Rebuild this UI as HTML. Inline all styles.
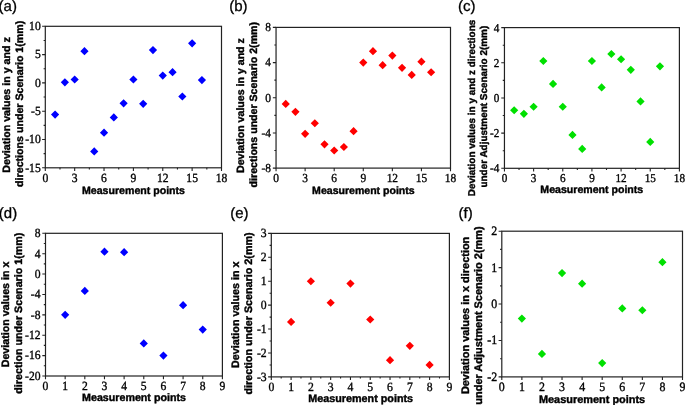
<!DOCTYPE html>
<html lang="en">
<head>
<meta charset="utf-8">
<title>Deviation values at measurement points</title>
<style>
html,body{margin:0;padding:0;background:#fff;}
body{width:685px;height:405px;overflow:hidden;font-family:"Liberation Sans",sans-serif;}
svg{display:block;will-change:transform;}
text{filter:grayscale(1);text-rendering:geometricPrecision;}
.tg{font-family:"Liberation Sans",sans-serif;font-size:15px;fill:#000;stroke:#000;stroke-width:0.3px;}
.tl{font-family:"Liberation Serif",serif;fill:#000;stroke:#000;stroke-width:0.35px;}
.lb{font-family:"Liberation Sans",sans-serif;font-weight:bold;fill:#000;stroke:#000;stroke-width:0.4px;}
.fr{fill:none;stroke:#222;stroke-width:1.2;}
.tk{fill:none;stroke:#222;stroke-width:1.1;}
</style>
</head>
<body>
<svg width="685" height="405" viewBox="0 0 685 405">
<rect width="685" height="405" fill="#fff"/>
<g>
<text class="tg" x="-1.4" y="10.65">(a)</text>
<rect class="fr" x="45.3" y="26.3" width="176.2" height="141.5"/>
<path class="tk" d="M45.3 167.8v3.2M59.98 167.8v1.7M74.67 167.8v3.2M89.35 167.8v1.7M104.03 167.8v3.2M118.72 167.8v1.7M133.4 167.8v3.2M148.08 167.8v1.7M162.77 167.8v3.2M177.45 167.8v1.7M192.13 167.8v3.2M206.82 167.8v1.7M221.5 167.8v3.2M45.3 167.8h-3.2M45.3 153.65h-1.7M45.3 139.5h-3.2M45.3 125.35h-1.7M45.3 111.2h-3.2M45.3 97.05h-1.7M45.3 82.9h-3.2M45.3 68.75h-1.7M45.3 54.6h-3.2M45.3 40.45h-1.7M45.3 26.3h-3.2"/>
<text class="tl" text-anchor="middle" font-size="12.5" transform="translate(45.3 181.9) scale(0.93 1)">0</text>
<text class="tl" text-anchor="middle" font-size="12.5" transform="translate(74.67 181.9) scale(0.93 1)">3</text>
<text class="tl" text-anchor="middle" font-size="12.5" transform="translate(104.03 181.9) scale(0.93 1)">6</text>
<text class="tl" text-anchor="middle" font-size="12.5" transform="translate(133.4 181.9) scale(0.93 1)">9</text>
<text class="tl" text-anchor="middle" font-size="12.5" transform="translate(162.77 181.9) scale(0.93 1)">12</text>
<text class="tl" text-anchor="middle" font-size="12.5" transform="translate(192.13 181.9) scale(0.93 1)">15</text>
<text class="tl" text-anchor="middle" font-size="12.5" transform="translate(221.5 181.9) scale(0.93 1)">18</text>
<text class="tl" text-anchor="end" font-size="12.5" transform="translate(40.7 171.65) scale(0.93 1)">-15</text>
<text class="tl" text-anchor="end" font-size="12.5" transform="translate(40.7 143.35) scale(0.93 1)">-10</text>
<text class="tl" text-anchor="end" font-size="12.5" transform="translate(40.7 115.05) scale(0.93 1)">-5</text>
<text class="tl" text-anchor="end" font-size="12.5" transform="translate(40.7 86.75) scale(0.93 1)">0</text>
<text class="tl" text-anchor="end" font-size="12.5" transform="translate(40.7 58.45) scale(0.93 1)">5</text>
<text class="tl" text-anchor="end" font-size="12.5" transform="translate(40.7 30.15) scale(0.93 1)">10</text>
<text class="lb" text-anchor="middle" font-size="10.6" x="133.5" y="193.5">Measurement points</text>
<text class="lb" text-anchor="middle" font-size="10.65" transform="translate(9.9 105) rotate(-90)">Deviation values in y and z</text>
<text class="lb" text-anchor="middle" font-size="10.65" transform="translate(23.35 103.8) rotate(-90)">directions under Scenario 1(mm)</text>
<path fill="#0000ff" d="M55.09 110.5l4.1 4.1l-4.1 4.1l-4.1 -4.1zM64.88 78.23l4.1 4.1l-4.1 4.1l-4.1 -4.1zM74.67 75.4l4.1 4.1l-4.1 4.1l-4.1 -4.1zM84.46 47.1l4.1 4.1l-4.1 4.1l-4.1 -4.1zM94.24 147.29l4.1 4.1l-4.1 4.1l-4.1 -4.1zM104.03 128.61l4.1 4.1l-4.1 4.1l-4.1 -4.1zM113.82 113.33l4.1 4.1l-4.1 4.1l-4.1 -4.1zM123.61 99.18l4.1 4.1l-4.1 4.1l-4.1 -4.1zM133.4 75.4l4.1 4.1l-4.1 4.1l-4.1 -4.1zM143.19 99.74l4.1 4.1l-4.1 4.1l-4.1 -4.1zM152.98 45.97l4.1 4.1l-4.1 4.1l-4.1 -4.1zM162.77 71.44l4.1 4.1l-4.1 4.1l-4.1 -4.1zM172.56 68.05l4.1 4.1l-4.1 4.1l-4.1 -4.1zM182.34 92.38l4.1 4.1l-4.1 4.1l-4.1 -4.1zM192.13 39.18l4.1 4.1l-4.1 4.1l-4.1 -4.1zM201.92 75.97l4.1 4.1l-4.1 4.1l-4.1 -4.1z"/>
</g>
<g>
<text class="tg" x="229.2" y="10.75">(b)</text>
<rect class="fr" x="276.05" y="27.4" width="174.45" height="140.7"/>
<path class="tk" d="M276.05 168.1v3.2M305.12 168.1v3.2M334.2 168.1v3.2M363.27 168.1v3.2M392.35 168.1v3.2M421.43 168.1v3.2M450.5 168.1v3.2M276.05 168.1h-3.2M276.05 150.51h-1.7M276.05 132.93h-3.2M276.05 115.34h-1.7M276.05 97.75h-3.2M276.05 80.16h-1.7M276.05 62.58h-3.2M276.05 44.99h-1.7M276.05 27.4h-3.2"/>
<text class="tl" text-anchor="middle" font-size="12.3" transform="translate(276.05 182.2) scale(0.93 1)">0</text>
<text class="tl" text-anchor="middle" font-size="12.3" transform="translate(305.12 182.2) scale(0.93 1)">3</text>
<text class="tl" text-anchor="middle" font-size="12.3" transform="translate(334.2 182.2) scale(0.93 1)">6</text>
<text class="tl" text-anchor="middle" font-size="12.3" transform="translate(363.27 182.2) scale(0.93 1)">9</text>
<text class="tl" text-anchor="middle" font-size="12.3" transform="translate(392.35 182.2) scale(0.93 1)">12</text>
<text class="tl" text-anchor="middle" font-size="12.3" transform="translate(421.43 182.2) scale(0.93 1)">15</text>
<text class="tl" text-anchor="middle" font-size="12.3" transform="translate(450.5 182.2) scale(0.93 1)">18</text>
<text class="tl" text-anchor="end" font-size="12.3" transform="translate(270.95 171.89) scale(0.93 1)">-8</text>
<text class="tl" text-anchor="end" font-size="12.3" transform="translate(270.95 136.71) scale(0.93 1)">-4</text>
<text class="tl" text-anchor="end" font-size="12.3" transform="translate(270.95 101.54) scale(0.93 1)">0</text>
<text class="tl" text-anchor="end" font-size="12.3" transform="translate(270.95 66.36) scale(0.93 1)">4</text>
<text class="tl" text-anchor="end" font-size="12.3" transform="translate(270.95 31.19) scale(0.93 1)">8</text>
<text class="lb" text-anchor="middle" font-size="10.55" x="363.4" y="193.7">Measurement points</text>
<text class="lb" text-anchor="middle" font-size="10.6" transform="translate(244 105.6) rotate(-90)">Deviation values in y and z</text>
<text class="lb" text-anchor="middle" font-size="10.6" transform="translate(256.7 104.7) rotate(-90)">directions under Scenario 2(mm)</text>
<path fill="#ff0000" d="M285.74 99.81l4.1 4.1l-4.1 4.1l-4.1 -4.1zM295.43 107.72l4.1 4.1l-4.1 4.1l-4.1 -4.1zM305.12 129.7l4.1 4.1l-4.1 4.1l-4.1 -4.1zM314.82 119.15l4.1 4.1l-4.1 4.1l-4.1 -4.1zM324.51 140.26l4.1 4.1l-4.1 4.1l-4.1 -4.1zM334.2 146.41l4.1 4.1l-4.1 4.1l-4.1 -4.1zM343.89 142.9l4.1 4.1l-4.1 4.1l-4.1 -4.1zM353.58 127.07l4.1 4.1l-4.1 4.1l-4.1 -4.1zM363.27 58.48l4.1 4.1l-4.1 4.1l-4.1 -4.1zM372.97 47.04l4.1 4.1l-4.1 4.1l-4.1 -4.1zM382.66 61.11l4.1 4.1l-4.1 4.1l-4.1 -4.1zM392.35 51.44l4.1 4.1l-4.1 4.1l-4.1 -4.1zM402.04 63.75l4.1 4.1l-4.1 4.1l-4.1 -4.1zM411.73 70.79l4.1 4.1l-4.1 4.1l-4.1 -4.1zM421.43 57.6l4.1 4.1l-4.1 4.1l-4.1 -4.1zM431.12 68.15l4.1 4.1l-4.1 4.1l-4.1 -4.1z"/>
</g>
<g>
<text class="tg" x="457.9" y="10.65">(c)</text>
<rect class="fr" x="504.45" y="27.6" width="174.95" height="140.7"/>
<path class="tk" d="M504.45 168.3v3.2M519.03 168.3v1.7M533.61 168.3v3.2M548.19 168.3v1.7M562.77 168.3v3.2M577.35 168.3v1.7M591.92 168.3v3.2M606.5 168.3v1.7M621.08 168.3v3.2M635.66 168.3v1.7M650.24 168.3v3.2M664.82 168.3v1.7M679.4 168.3v3.2M504.45 168.3h-3.2M504.45 150.71h-1.7M504.45 133.12h-3.2M504.45 115.54h-1.7M504.45 97.95h-3.2M504.45 80.36h-1.7M504.45 62.78h-3.2M504.45 45.19h-1.7M504.45 27.6h-3.2"/>
<text class="tl" text-anchor="middle" font-size="12" transform="translate(504.45 182.2) scale(0.93 1)">0</text>
<text class="tl" text-anchor="middle" font-size="12" transform="translate(533.61 182.2) scale(0.93 1)">3</text>
<text class="tl" text-anchor="middle" font-size="12" transform="translate(562.77 182.2) scale(0.93 1)">6</text>
<text class="tl" text-anchor="middle" font-size="12" transform="translate(591.92 182.2) scale(0.93 1)">9</text>
<text class="tl" text-anchor="middle" font-size="12" transform="translate(621.08 182.2) scale(0.93 1)">12</text>
<text class="tl" text-anchor="middle" font-size="12" transform="translate(650.24 182.2) scale(0.93 1)">15</text>
<text class="tl" text-anchor="middle" font-size="12" transform="translate(679.4 182.2) scale(0.93 1)">18</text>
<text class="tl" text-anchor="end" font-size="12" transform="translate(499.35 172.2) scale(0.93 1)">-4</text>
<text class="tl" text-anchor="end" font-size="12" transform="translate(499.35 137.03) scale(0.93 1)">-2</text>
<text class="tl" text-anchor="end" font-size="12" transform="translate(499.35 101.85) scale(0.93 1)">0</text>
<text class="tl" text-anchor="end" font-size="12" transform="translate(499.35 66.68) scale(0.93 1)">2</text>
<text class="tl" text-anchor="end" font-size="12" transform="translate(499.35 31.5) scale(0.93 1)">4</text>
<text class="lb" text-anchor="middle" font-size="10.58" x="591.8" y="192.8">Measurement points</text>
<text class="lb" text-anchor="middle" font-size="9.93" transform="translate(474.9 108) rotate(-90)">Deviation values in y and z directions</text>
<text class="lb" text-anchor="middle" font-size="9.93" transform="translate(486.9 106.65) rotate(-90)">under Adjustment Scenario 2(mm)</text>
<path fill="#00e000" d="M514.17 106.16l4.1 4.1l-4.1 4.1l-4.1 -4.1zM523.89 109.68l4.1 4.1l-4.1 4.1l-4.1 -4.1zM533.61 102.64l4.1 4.1l-4.1 4.1l-4.1 -4.1zM543.33 56.92l4.1 4.1l-4.1 4.1l-4.1 -4.1zM553.05 79.78l4.1 4.1l-4.1 4.1l-4.1 -4.1zM562.77 102.64l4.1 4.1l-4.1 4.1l-4.1 -4.1zM572.49 130.78l4.1 4.1l-4.1 4.1l-4.1 -4.1zM582.21 144.85l4.1 4.1l-4.1 4.1l-4.1 -4.1zM591.92 56.92l4.1 4.1l-4.1 4.1l-4.1 -4.1zM601.64 83.3l4.1 4.1l-4.1 4.1l-4.1 -4.1zM611.36 49.88l4.1 4.1l-4.1 4.1l-4.1 -4.1zM621.08 55.16l4.1 4.1l-4.1 4.1l-4.1 -4.1zM630.8 65.71l4.1 4.1l-4.1 4.1l-4.1 -4.1zM640.52 97.37l4.1 4.1l-4.1 4.1l-4.1 -4.1zM650.24 137.82l4.1 4.1l-4.1 4.1l-4.1 -4.1zM659.96 62.19l4.1 4.1l-4.1 4.1l-4.1 -4.1z"/>
</g>
<g>
<text class="tg" x="-1.2" y="218">(d)</text>
<rect class="fr" x="45.5" y="233.3" width="176.9" height="142.7"/>
<path class="tk" d="M45.5 376v3.2M65.16 376v3.2M84.81 376v3.2M104.47 376v3.2M124.12 376v3.2M143.78 376v3.2M163.43 376v3.2M183.09 376v3.2M202.74 376v3.2M222.4 376v3.2M45.5 376h-3.2M45.5 365.81h-1.7M45.5 355.61h-3.2M45.5 345.42h-1.7M45.5 335.23h-3.2M45.5 325.04h-1.7M45.5 314.84h-3.2M45.5 304.65h-1.7M45.5 294.46h-3.2M45.5 284.26h-1.7M45.5 274.07h-3.2M45.5 263.88h-1.7M45.5 253.69h-3.2M45.5 243.49h-1.7M45.5 233.3h-3.2"/>
<text class="tl" text-anchor="middle" font-size="12.5" transform="translate(45.5 390) scale(0.93 1)">0</text>
<text class="tl" text-anchor="middle" font-size="12.5" transform="translate(65.16 390) scale(0.93 1)">1</text>
<text class="tl" text-anchor="middle" font-size="12.5" transform="translate(84.81 390) scale(0.93 1)">2</text>
<text class="tl" text-anchor="middle" font-size="12.5" transform="translate(104.47 390) scale(0.93 1)">3</text>
<text class="tl" text-anchor="middle" font-size="12.5" transform="translate(124.12 390) scale(0.93 1)">4</text>
<text class="tl" text-anchor="middle" font-size="12.5" transform="translate(143.78 390) scale(0.93 1)">5</text>
<text class="tl" text-anchor="middle" font-size="12.5" transform="translate(163.43 390) scale(0.93 1)">6</text>
<text class="tl" text-anchor="middle" font-size="12.5" transform="translate(183.09 390) scale(0.93 1)">7</text>
<text class="tl" text-anchor="middle" font-size="12.5" transform="translate(202.74 390) scale(0.93 1)">8</text>
<text class="tl" text-anchor="middle" font-size="12.5" transform="translate(222.4 390) scale(0.93 1)">9</text>
<text class="tl" text-anchor="end" font-size="12.5" transform="translate(40.55 379.85) scale(0.93 1)">-20</text>
<text class="tl" text-anchor="end" font-size="12.5" transform="translate(40.55 359.46) scale(0.93 1)">-16</text>
<text class="tl" text-anchor="end" font-size="12.5" transform="translate(40.55 339.08) scale(0.93 1)">-12</text>
<text class="tl" text-anchor="end" font-size="12.5" transform="translate(40.55 318.69) scale(0.93 1)">-8</text>
<text class="tl" text-anchor="end" font-size="12.5" transform="translate(40.55 298.31) scale(0.93 1)">-4</text>
<text class="tl" text-anchor="end" font-size="12.5" transform="translate(40.55 277.92) scale(0.93 1)">0</text>
<text class="tl" text-anchor="end" font-size="12.5" transform="translate(40.55 257.54) scale(0.93 1)">4</text>
<text class="tl" text-anchor="end" font-size="12.5" transform="translate(40.55 237.15) scale(0.93 1)">8</text>
<text class="lb" text-anchor="middle" font-size="10.7" x="134" y="401.2">Measurement points</text>
<text class="lb" text-anchor="middle" font-size="10.7" transform="translate(8.5 314.45) rotate(-90)">Deviation values in x</text>
<text class="lb" text-anchor="middle" font-size="10.7" transform="translate(21.95 313.2) rotate(-90)">direction under Scenario 1(mm)</text>
<path fill="#0000ff" d="M65.16 310.74l4.1 4.1l-4.1 4.1l-4.1 -4.1zM84.81 286.79l4.1 4.1l-4.1 4.1l-4.1 -4.1zM104.47 247.55l4.1 4.1l-4.1 4.1l-4.1 -4.1zM124.12 248.06l4.1 4.1l-4.1 4.1l-4.1 -4.1zM143.78 339.28l4.1 4.1l-4.1 4.1l-4.1 -4.1zM163.43 351.51l4.1 4.1l-4.1 4.1l-4.1 -4.1zM183.09 301.06l4.1 4.1l-4.1 4.1l-4.1 -4.1zM202.74 325.52l4.1 4.1l-4.1 4.1l-4.1 -4.1z"/>
</g>
<g>
<text class="tg" x="230.15" y="218">(e)</text>
<rect class="fr" x="271.3" y="233.4" width="178.1" height="143.5"/>
<path class="tk" d="M271.3 376.9v3.2M281.19 376.9v1.7M291.09 376.9v3.2M300.98 376.9v1.7M310.88 376.9v3.2M320.77 376.9v1.7M330.67 376.9v3.2M340.56 376.9v1.7M350.46 376.9v3.2M360.35 376.9v1.7M370.24 376.9v3.2M380.14 376.9v1.7M390.03 376.9v3.2M399.93 376.9v1.7M409.82 376.9v3.2M419.72 376.9v1.7M429.61 376.9v3.2M439.51 376.9v1.7M449.4 376.9v3.2M271.3 376.9h-3.2M271.3 364.94h-1.7M271.3 352.98h-3.2M271.3 341.02h-1.7M271.3 329.07h-3.2M271.3 317.11h-1.7M271.3 305.15h-3.2M271.3 293.19h-1.7M271.3 281.23h-3.2M271.3 269.27h-1.7M271.3 257.32h-3.2M271.3 245.36h-1.7M271.3 233.4h-3.2"/>
<text class="tl" text-anchor="middle" font-size="12.6" transform="translate(271.3 390.5) scale(0.93 1)">0</text>
<text class="tl" text-anchor="middle" font-size="12.6" transform="translate(291.09 390.5) scale(0.93 1)">1</text>
<text class="tl" text-anchor="middle" font-size="12.6" transform="translate(310.88 390.5) scale(0.93 1)">2</text>
<text class="tl" text-anchor="middle" font-size="12.6" transform="translate(330.67 390.5) scale(0.93 1)">3</text>
<text class="tl" text-anchor="middle" font-size="12.6" transform="translate(350.46 390.5) scale(0.93 1)">4</text>
<text class="tl" text-anchor="middle" font-size="12.6" transform="translate(370.24 390.5) scale(0.93 1)">5</text>
<text class="tl" text-anchor="middle" font-size="12.6" transform="translate(390.03 390.5) scale(0.93 1)">6</text>
<text class="tl" text-anchor="middle" font-size="12.6" transform="translate(409.82 390.5) scale(0.93 1)">7</text>
<text class="tl" text-anchor="middle" font-size="12.6" transform="translate(429.61 390.5) scale(0.93 1)">8</text>
<text class="tl" text-anchor="middle" font-size="12.6" transform="translate(449.4 390.5) scale(0.93 1)">9</text>
<text class="tl" text-anchor="end" font-size="12.6" transform="translate(266.7 380.78) scale(0.93 1)">-3</text>
<text class="tl" text-anchor="end" font-size="12.6" transform="translate(266.7 356.86) scale(0.93 1)">-2</text>
<text class="tl" text-anchor="end" font-size="12.6" transform="translate(266.7 332.95) scale(0.93 1)">-1</text>
<text class="tl" text-anchor="end" font-size="12.6" transform="translate(266.7 309.03) scale(0.93 1)">0</text>
<text class="tl" text-anchor="end" font-size="12.6" transform="translate(266.7 285.11) scale(0.93 1)">1</text>
<text class="tl" text-anchor="end" font-size="12.6" transform="translate(266.7 261.2) scale(0.93 1)">2</text>
<text class="tl" text-anchor="end" font-size="12.6" transform="translate(266.7 237.28) scale(0.93 1)">3</text>
<text class="lb" text-anchor="middle" font-size="10.77" x="360.7" y="401.6">Measurement points</text>
<text class="lb" text-anchor="middle" font-size="10.78" transform="translate(239.1 314.7) rotate(-90)">Deviation values in x</text>
<text class="lb" text-anchor="middle" font-size="10.78" transform="translate(252.2 313.4) rotate(-90)">direction under Scenario 2(mm)</text>
<path fill="#ff0000" d="M291.09 317.79l4.1 4.1l-4.1 4.1l-4.1 -4.1zM310.88 277.13l4.1 4.1l-4.1 4.1l-4.1 -4.1zM330.67 298.66l4.1 4.1l-4.1 4.1l-4.1 -4.1zM350.46 279.52l4.1 4.1l-4.1 4.1l-4.1 -4.1zM370.24 315.4l4.1 4.1l-4.1 4.1l-4.1 -4.1zM390.03 356.06l4.1 4.1l-4.1 4.1l-4.1 -4.1zM409.82 341.71l4.1 4.1l-4.1 4.1l-4.1 -4.1zM429.61 360.84l4.1 4.1l-4.1 4.1l-4.1 -4.1z"/>
</g>
<g>
<text class="tg" x="458.5" y="218.05">(f)</text>
<rect class="fr" x="501.8" y="231.2" width="180.7" height="145.7"/>
<path class="tk" d="M501.8 376.9v3.2M521.88 376.9v3.2M541.96 376.9v3.2M562.03 376.9v3.2M582.11 376.9v3.2M602.19 376.9v3.2M622.27 376.9v3.2M642.34 376.9v3.2M662.42 376.9v3.2M682.5 376.9v3.2M501.8 376.9h-3.2M501.8 358.69h-1.7M501.8 340.47h-3.2M501.8 322.26h-1.7M501.8 304.05h-3.2M501.8 285.84h-1.7M501.8 267.62h-3.2M501.8 249.41h-1.7M501.8 231.2h-3.2"/>
<text class="tl" text-anchor="middle" font-size="12.8" transform="translate(501.8 390.8) scale(0.93 1)">0</text>
<text class="tl" text-anchor="middle" font-size="12.8" transform="translate(521.88 390.8) scale(0.93 1)">1</text>
<text class="tl" text-anchor="middle" font-size="12.8" transform="translate(541.96 390.8) scale(0.93 1)">2</text>
<text class="tl" text-anchor="middle" font-size="12.8" transform="translate(562.03 390.8) scale(0.93 1)">3</text>
<text class="tl" text-anchor="middle" font-size="12.8" transform="translate(582.11 390.8) scale(0.93 1)">4</text>
<text class="tl" text-anchor="middle" font-size="12.8" transform="translate(602.19 390.8) scale(0.93 1)">5</text>
<text class="tl" text-anchor="middle" font-size="12.8" transform="translate(622.27 390.8) scale(0.93 1)">6</text>
<text class="tl" text-anchor="middle" font-size="12.8" transform="translate(642.34 390.8) scale(0.93 1)">7</text>
<text class="tl" text-anchor="middle" font-size="12.8" transform="translate(662.42 390.8) scale(0.93 1)">8</text>
<text class="tl" text-anchor="middle" font-size="12.8" transform="translate(682.5 390.8) scale(0.93 1)">9</text>
<text class="tl" text-anchor="end" font-size="12.8" transform="translate(497.2 380.84) scale(0.93 1)">-2</text>
<text class="tl" text-anchor="end" font-size="12.8" transform="translate(497.2 344.42) scale(0.93 1)">-1</text>
<text class="tl" text-anchor="end" font-size="12.8" transform="translate(497.2 307.99) scale(0.93 1)">0</text>
<text class="tl" text-anchor="end" font-size="12.8" transform="translate(497.2 271.57) scale(0.93 1)">1</text>
<text class="tl" text-anchor="end" font-size="12.8" transform="translate(497.2 235.14) scale(0.93 1)">2</text>
<text class="lb" text-anchor="middle" font-size="10.93" x="592.05" y="402.6">Measurement points</text>
<text class="lb" text-anchor="middle" font-size="10.95" transform="translate(469 315.4) rotate(-90)">Deviation values in x direction</text>
<text class="lb" text-anchor="middle" font-size="10.95" transform="translate(482.3 315.5) rotate(-90)">under Adjustment Scenario 2(mm)</text>
<path fill="#00e000" d="M521.88 314.52l4.1 4.1l-4.1 4.1l-4.1 -4.1zM541.96 349.85l4.1 4.1l-4.1 4.1l-4.1 -4.1zM562.03 268.99l4.1 4.1l-4.1 4.1l-4.1 -4.1zM582.11 279.55l4.1 4.1l-4.1 4.1l-4.1 -4.1zM602.19 358.96l4.1 4.1l-4.1 4.1l-4.1 -4.1zM622.27 304.32l4.1 4.1l-4.1 4.1l-4.1 -4.1zM642.34 306.14l4.1 4.1l-4.1 4.1l-4.1 -4.1zM662.42 258.06l4.1 4.1l-4.1 4.1l-4.1 -4.1z"/>
</g>
</svg>
</body>
</html>
